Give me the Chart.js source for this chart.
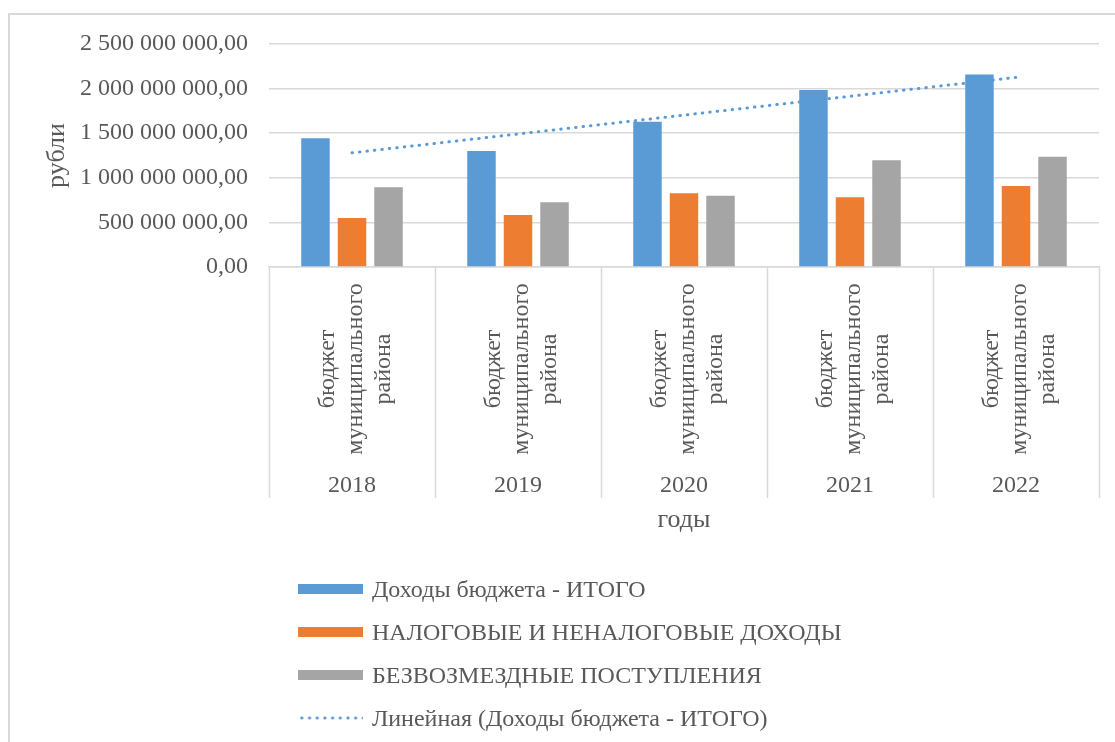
<!DOCTYPE html>
<html>
<head>
<meta charset="utf-8">
<script src="https://cdn.jsdelivr.net/npm/chart.js@4"></script>
<style>
    html, body { margin: 0; padding: 0; background: #fff; overflow: hidden; }
    #wrap { position: relative; width: 1115px; height: 742px; }
    #frame { position: absolute; left: 8px; top: 13px; width: 2000px; height: 2000px;
             border-top: 2px solid #d9d9d9; border-left: 2px solid #d9d9d9; }
    #chart { position: absolute; left: 0; top: 0; }
    #legend { position: absolute; left: 298px; top: 0; font-family: "Liberation Serif", "Times New Roman", serif;
              font-size: 24px; color: #595959; }
    .item { position: absolute; left: 0; white-space: nowrap; height: 30px; line-height: 30px; }
    .swatch { position: absolute; left: 0; width: 65px; }
    .item span.txt { position: absolute; left: 74px; top: 0; }
</style>
</head>
<body>
<div id="wrap">
    <div id="frame"></div>
    <canvas id="chart" width="1115" height="742"></canvas>
    <div id="legend"></div>
</div>
<script>
const years = ["2018", "2019", "2020", "2021", "2022"];
const groupLabel = ["бюджет", "муниципального", "района"];

const dohodyItogo = [1443000000, 1301000000, 1629000000, 1983000000, 2159000000];
const nalogovye = [548000000, 582000000, 828000000, 783000000, 909000000];
const bezvozmezdnye = [895000000, 727000000, 798000000, 1197000000, 1237000000];
const lineinaya = [1280000000, 1491000000, 1703000000, 1914000000, 2126000000];

const yTicks = [0, 500000000, 1000000000, 1500000000, 2000000000, 2500000000];

const FONT = '"Liberation Serif", "Times New Roman", serif';
const TXT = '#595959';
const GRID = '#d9d9d9';

function formatRub(v) {
    let parts = Number(v).toFixed(2).split('.');
    let int = parts[0].replace(/\B(?=(\d{3})+(?!\d))/g, ' ');
    return int + ',' + parts[1];
}

// подписи категорий в два уровня (повёрнутый текст + год)
const multiLevel = {
    id: 'multiLevel',
    afterDraw(chart) {
        const ctx = chart.ctx;
        const x = chart.scales.x;
        ctx.save();
        ctx.fillStyle = TXT;
        ctx.font = '24px ' + FONT;
        ctx.textAlign = 'center';
        ctx.textBaseline = 'middle';
        years.forEach((year, i) => {
            const cx = x.getPixelForValue(i);
            ctx.save();
            ctx.translate(cx + 4, 369);
            ctx.rotate(-Math.PI / 2);
            groupLabel.forEach((line, j) => ctx.fillText(line, 0, (j - 1) * 28));
            ctx.restore();
            ctx.fillText(year, cx, 486);
        });
        ctx.restore();
    }
};

const chart = new Chart(document.getElementById('chart').getContext('2d'), {
    type: 'bar',
    data: {
        labels: years,
        datasets: [
            { label: 'Доходы бюджета - ИТОГО', data: dohodyItogo, backgroundColor: '#5B9BD5' },
            { label: 'НАЛОГОВЫЕ И НЕНАЛОГОВЫЕ ДОХОДЫ', data: nalogovye, backgroundColor: '#ED7D31' },
            { label: 'БЕЗВОЗМЕЗДНЫЕ ПОСТУПЛЕНИЯ', data: bezvozmezdnye, backgroundColor: '#A5A5A5' },
            {
                type: 'line',
                label: 'Линейная (Доходы бюджета - ИТОГО)',
                data: lineinaya,
                borderColor: '#5B9BD5',
                borderWidth: 3,
                borderDash: [0.5, 7],
                borderCapStyle: 'round',
                pointRadius: 0,
                fill: false,
                order: -1
            }
        ]
    },
    options: {
        responsive: false,
        animation: false,
        devicePixelRatio: 1,
        layout: { padding: { left: 42, top: 44, right: 16, bottom: 206 } },
        datasets: { bar: { categoryPercentage: 0.66, barPercentage: 0.78 } },
        plugins: { legend: { display: false }, tooltip: { enabled: false } },
        scales: {
            x: {
                grid: { display: true, drawOnChartArea: false, drawTicks: true, tickLength: 231,
                        color: GRID, tickColor: GRID, tickWidth: 1.5, offset: true },
                border: { display: true, color: GRID, width: 1.5 },
                ticks: { display: false },
                title: { display: true, text: 'годы', color: TXT, padding: 0,
                         font: { family: FONT, size: 26 } },
                afterFit: s => { s.height = 269; }
            },
            y: {
                min: 0,
                max: 2500000000,
                afterBuildTicks: s => { s.ticks = yTicks.map(v => ({ value: v })); },
                grid: { color: GRID, lineWidth: 1.5, drawTicks: false },
                border: { display: false },
                ticks: { padding: 21, color: TXT, font: { family: FONT, size: 24 },
                         callback: v => formatRub(v) },
                title: { display: true, text: 'рубли', color: TXT, padding: 0,
                         font: { family: FONT, size: 26 } },
                afterFit: s => { s.width = 227; }
            }
        }
    },
    plugins: [multiLevel]
});

// легенда списком под графиком
const legend = document.getElementById('legend');
const legendY = [589, 632, 675, 718];
chart.data.datasets.forEach((ds, i) => {
    const item = document.createElement('div');
    item.className = 'item';
    item.style.top = (legendY[i] - 15) + 'px';
    const sw = document.createElement('div');
    sw.className = 'swatch';
    if (ds.type === 'line') {
        sw.style.top = '13px';
        sw.style.height = '4px';
        sw.style.backgroundImage = 'radial-gradient(circle, ' + ds.borderColor + ' 1.3px, transparent 1.8px)';
        sw.style.backgroundSize = '7.7px 4px';
    } else {
        sw.style.top = '10px';
        sw.style.height = '10px';
        sw.style.background = ds.backgroundColor;
    }
    const t = document.createElement('span');
    t.className = 'txt';
    t.textContent = ds.label;
    item.appendChild(sw);
    item.appendChild(t);
    legend.appendChild(item);
});
</script>
</body>
</html>
